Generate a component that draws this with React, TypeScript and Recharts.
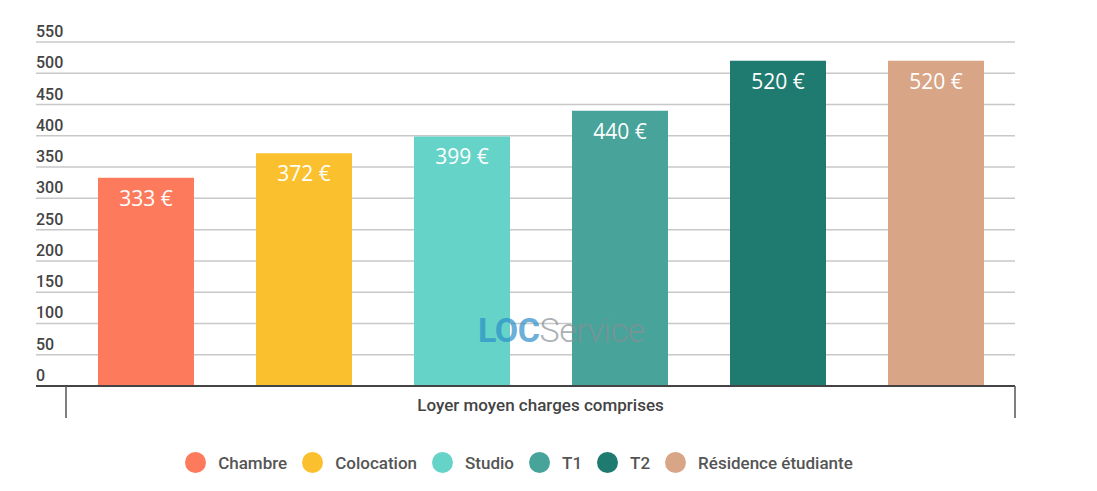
import { BarChart, Bar, XAxis, YAxis, CartesianGrid, Legend, LabelList } from 'recharts';

const categories = ['Loyer moyen charges comprises'];
const seriesNames = ['Chambre', 'Colocation', 'Studio', 'T1', 'T2', 'Résidence étudiante'];
const seriesValues = [333, 372, 399, 440, 520, 520];
const seriesColors = ['#fd7b5c', '#fbc02d', '#66d3c9', '#48a39a', '#1f7a70', '#d8a587'];
const yTicks = [0, 50, 100, 150, 200, 250, 300, 350, 400, 450, 500, 550];

const data = categories.map((name) => {
  const row: Record<string, string | number> = { name };
  seriesNames.forEach((s, i) => {
    row[s] = seriesValues[i];
  });
  return row;
});

const W = 1097;
const H = 491;
const Y_W = 30;
const MARGIN = { top: 42, right: 82, bottom: 65, left: 36 - Y_W };
const X_PAD_LEFT = 30;
// width of the single category band (plot width minus left padding)
const BAND = W - 36 - MARGIN.right - X_PAD_LEFT;

const font = 'Roboto, "Noto Sans", sans-serif';

function YTick({ y, payload }: any) {
  return (
    <text x={36} y={y - 5} textAnchor="start" fill="#444" fontSize={16} fontWeight={500} fontFamily={font}>
      {payload.value}
    </text>
  );
}

function XTick({ x, y, payload }: any) {
  return (
    <g>
      <line x1={x - BAND / 2} x2={x - BAND / 2} y1={y} y2={y + 32} stroke="#555" strokeWidth={1.5} />
      <line x1={x + BAND / 2} x2={x + BAND / 2} y1={y} y2={y + 32} stroke="#555" strokeWidth={1.5} />
      <text x={x} y={y + 25} textAnchor="middle" fill="#444" fontSize={17} fontWeight={500} fontFamily={font}>
        {payload.value}
      </text>
    </g>
  );
}

function LegendContent() {
  return (
    <div style={{ display: 'flex', justifyContent: 'center', alignItems: 'center', fontFamily: font }}>
      {seriesNames.map((s, i) => (
        <div key={s} style={{ display: 'flex', alignItems: 'center', marginRight: 15 }}>
          <span
            style={{
              width: 21,
              height: 21,
              borderRadius: '50%',
              background: seriesColors[i],
              display: 'inline-block',
              marginRight: 12,
            }}
          />
          <span style={{ fontSize: 17, fontWeight: 500, color: '#555' }}>{s}</span>
        </div>
      ))}
    </div>
  );
}

export default function App() {
  return (
    <div style={{ position: 'absolute', left: 0, top: 0, width: W, height: H, background: '#fff' }}>
      <BarChart width={W} height={H} data={data} margin={MARGIN} barSize={96} barGap={62}>
        <CartesianGrid horizontal vertical={false} stroke="#c8c8c8" strokeWidth={1.5} />
        <XAxis
          dataKey="name"
          padding={{ left: X_PAD_LEFT, right: 0 }}
          axisLine={{ stroke: '#444', strokeWidth: 2 }}
          tickLine={false}
          tickSize={0}
          tickMargin={0}
          tick={<XTick />}
          height={40}
          interval={0}
        />
        <YAxis
          domain={[0, 550]}
          ticks={yTicks}
          width={Y_W}
          axisLine={false}
          tickLine={false}
          tickSize={0}
          tickMargin={0}
          tick={<YTick />}
          interval={0}
        />
        <Legend
          verticalAlign="middle"
          align="center"
          layout="horizontal"
          wrapperStyle={{ top: 452, left: -22, width: W }}
          content={<LegendContent />}
        />
        {seriesNames.map((s, i) => (
          <Bar key={s} dataKey={s} fill={seriesColors[i]} isAnimationActive={false}>
            <LabelList
              dataKey={s}
              position="insideTop"
              offset={13}
              formatter={(v: any) => `${v} €`}
              fill="#fff"
              fontSize={21}
              fontWeight={500}
              fontFamily='"Open Sans", sans-serif'
            />
          </Bar>
        ))}
      </BarChart>
      <div
        style={{
          position: 'absolute',
          left: 478,
          top: 310,
          fontFamily: 'Roboto, sans-serif',
          fontSize: 34,
          opacity: 0.7,
          letterSpacing: -0.5,
          pointerEvents: 'none',
        }}
      >
        <span style={{ color: '#2e8fc9', fontWeight: 700 }}>LOC</span>
        <span style={{ color: '#8a8f94', fontWeight: 300 }}>Service</span>
      </div>
    </div>
  );
}
